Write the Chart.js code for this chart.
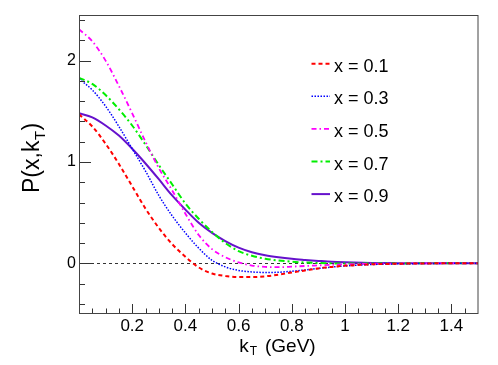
<!DOCTYPE html>
<html>
<head>
<meta charset="utf-8">
<script src="https://cdn.jsdelivr.net/npm/chart.js@4/dist/chart.umd.min.js"></script>
<style>
  html, body { margin: 0; padding: 0; background: #ffffff; }
  #wrap { width: 498px; height: 365px; }
</style>
</head>
<body>
<div id="wrap"><canvas id="c" width="498" height="365"></canvas></div>
<script>
// ---- data ----
const kT = [0, 0.05, 0.1, 0.15, 0.2, 0.25, 0.3, 0.35, 0.4, 0.45, 0.5, 0.55, 0.6, 0.65, 0.7, 0.75, 0.8, 0.85, 0.9, 0.95, 1.0, 1.1, 1.2, 1.3, 1.4, 1.5];
const p01 = [1.47, 1.35, 1.18, 0.98, 0.76, 0.54, 0.35, 0.19, 0.065, -0.04, -0.10, -0.125, -0.135, -0.135, -0.128, -0.112, -0.09, -0.07, -0.05, -0.035, -0.024, -0.01, -0.004, -0.001, 0, 0];
const p03 = [1.82, 1.71, 1.55, 1.35, 1.13, 0.91, 0.67, 0.47, 0.30, 0.15, 0.03, -0.035, -0.07, -0.085, -0.09, -0.088, -0.078, -0.065, -0.05, -0.037, -0.026, -0.012, -0.005, -0.002, 0, 0];
const p05 = [2.31, 2.19, 2.00, 1.75, 1.48, 1.20, 0.94, 0.72, 0.49, 0.28, 0.14, 0.06, 0.01, -0.022, -0.035, -0.038, -0.033, -0.026, -0.02, -0.014, -0.01, -0.004, -0.002, 0, 0, 0];
const p07 = [1.83, 1.77, 1.66, 1.52, 1.36, 1.17, 0.97, 0.78, 0.59, 0.44, 0.31, 0.20, 0.12, 0.075, 0.045, 0.028, 0.016, 0.008, 0.003, 0.0, -0.002, -0.002, -0.001, 0, 0, 0];
const p09 = [1.48, 1.44, 1.36, 1.26, 1.13, 0.985, 0.83, 0.67, 0.53, 0.40, 0.30, 0.22, 0.155, 0.11, 0.08, 0.06, 0.045, 0.034, 0.024, 0.015, 0.01, 0.004, 0.002, 0.001, 0, 0];
const seriesLabels = ['x = 0.1', 'x = 0.3', 'x = 0.5', 'x = 0.7', 'x = 0.9'];
const xTickValues = [0.2, 0.4, 0.6, 0.8, 1, 1.2, 1.4];
const yTickValues = [0, 1, 2];

const FONT = '"Liberation Sans", Arial, Helvetica, sans-serif';
const allSeries = [p01, p03, p05, p07, p09];
const styles = [
  { color: '#ff0000', dash: [4, 3], width: 2 },
  { color: '#0000ff', dash: [1.5, 1.5], width: 1.5 },
  { color: '#ff00ff', dash: [5, 3, 1.5, 3], width: 1.8 },
  { color: '#00ee00', dash: [6, 3, 2, 3], width: 2 },
  { color: '#6611cc', dash: [], width: 2 }
];

const datasets = allSeries.map((s, i) => ({
  label: seriesLabels[i],
  data: kT.map((k, j) => ({ x: k, y: s[j] })),
  borderColor: styles[i].color,
  borderDash: styles[i].dash,
  borderWidth: styles[i].width,
  pointRadius: 0,
  fill: false,
  cubicInterpolationMode: 'monotone'
}));

function line(ctx, x1, y1, x2, y2) {
  ctx.beginPath(); ctx.moveTo(x1, y1); ctx.lineTo(x2, y2); ctx.stroke();
}

const rootStyle = {
  id: 'rootStyle',
  beforeDatasetsDraw(chart) {
    const { ctx, scales: { x, y } } = chart;
    ctx.save();
    ctx.strokeStyle = '#333';
    ctx.lineWidth = 1;
    ctx.setLineDash([3, 3]);
    const py = Math.round(y.getPixelForValue(0)) + 0.5;
    line(ctx, x.getPixelForValue(0), py, x.getPixelForValue(1.5), py);
    ctx.restore();
  },
  afterDatasetsDraw(chart) {
    const { ctx, chartArea: { left, right, top, bottom }, scales: { x, y } } = chart;
    ctx.save();
    ctx.strokeStyle = '#333';
    ctx.lineWidth = 1;
    // x ticks (inside)
    for (let i = 1; i < 30; i++) {
      const px = Math.round(x.getPixelForValue(i * 0.05)) + 0.5;
      const len = (i % 4 === 0) ? 9 : 4.5;
      line(ctx, px, bottom, px, bottom - len);
    }
    // y ticks (inside)
    for (let i = -2; i <= 12; i++) {
      const v = i * 0.2;
      const py = Math.round(y.getPixelForValue(v)) + 0.5;
      if (py < top || py > bottom) continue;
      const len = (i % 5 === 0) ? 12 : 6;
      line(ctx, left, py, left + len, py);
    }
    // frame
    ctx.strokeStyle = '#444';
    ctx.strokeRect(left + 0.5, top + 0.5, right - left - 0.5, bottom - top);

    // legend
    ctx.font = '18px ' + FONT;
    ctx.fillStyle = '#000';
    ctx.textBaseline = 'alphabetic';
    chart.data.datasets.forEach((ds, i) => {
      const base = 71.7 + i * 32.6;
      ctx.save();
      ctx.strokeStyle = ds.borderColor;
      ctx.lineWidth = ds.borderWidth;
      ctx.setLineDash(ds.borderDash);
      line(ctx, 311.5, base - 8, 330, base - 8);
      ctx.restore();
      ctx.fillText(ds.label, 334, base);
    });

    // x title: k_T (GeV)
    ctx.font = '19px ' + FONT;
    ctx.fillText('k', 239.3, 352.3);
    ctx.font = '12px ' + FONT;
    ctx.fillText('T', 249.8, 355);
    ctx.font = '19px ' + FONT;
    ctx.fillText('(GeV)', 265, 352.3);

    // y title: P(x,k_T)
    ctx.save();
    ctx.translate(38.5, 193);
    ctx.rotate(-Math.PI / 2);
    ctx.font = '23px ' + FONT;
    ctx.fillText('P(x,k', 0, 0);
    let w = ctx.measureText('P(x,k').width;
    ctx.font = '15px ' + FONT;
    ctx.fillText('T', w + 0.5, 6);
    let w2 = ctx.measureText('T').width;
    ctx.font = '23px ' + FONT;
    ctx.fillText(')', w + w2 + 1, 0);
    ctx.restore();

    ctx.restore();
  }
};

new Chart(document.getElementById('c'), {
  type: 'line',
  data: { datasets },
  options: {
    responsive: false,
    animation: false,
    devicePixelRatio: 1,
    layout: { padding: { left: 0, right: 20, top: 15, bottom: 0 } },
    plugins: { legend: { display: false }, tooltip: { enabled: false } },
    scales: {
      x: {
        type: 'linear', min: 0, max: 1.5,
        grid: { display: false, drawTicks: false },
        border: { display: false },
        afterBuildTicks: (s) => { s.ticks = xTickValues.map(v => ({ value: v })); },
        ticks: {
          autoSkip: false, maxRotation: 0, padding: 3,
          color: '#000', font: { family: FONT, size: 17 },
          callback: (v) => String(Math.round(v * 10) / 10)
        },
        afterFit: (s) => { s.height = 52; }
      },
      y: {
        type: 'linear', min: -0.49, max: 2.45,
        grid: { display: false, drawTicks: false },
        border: { display: false },
        afterBuildTicks: (s) => { s.ticks = yTickValues.map(v => ({ value: v })); },
        ticks: {
          padding: 3,
          color: '#000', font: { family: FONT, size: 16 },
          callback: (v) => String(v)
        },
        afterFit: (s) => { s.width = 79; }
      }
    }
  },
  plugins: [rootStyle]
});
</script>
</body>
</html>
